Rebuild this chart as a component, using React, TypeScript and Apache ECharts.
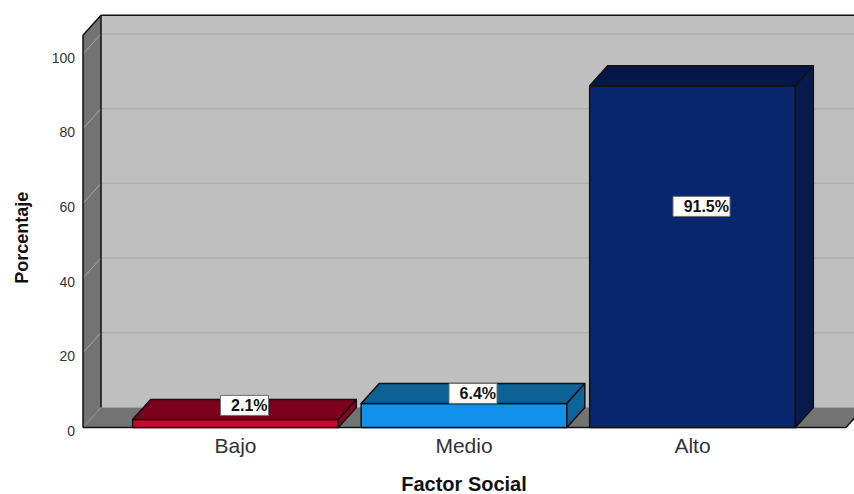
import React, { useEffect, useRef } from "react";
import * as echarts from "echarts";

const categories = ["Bajo", "Medio", "Alto"];
const percentages = [2.1, 6.4, 91.5];
const valueLabels = ["2.1%", "6.4%", "91.5%"];
const yTicks = [0, 20, 40, 60, 80, 100];
const frontColors = ["#D2002B", "#1192EA", "#08266E"];
const topColors = ["#7C001C", "#0C6197", "#05174A"];
const sideColors = ["#8A0020", "#0C6499", "#051A4E"];

const DX = 18;
const DY = -20;
const OUT = 38.25;
const EDGE = "#111111";
const labelLift = [-22, -34, -221];

export default function App() {
  const ref = useRef<HTMLDivElement>(null);
  useEffect(() => {
    document.body.style.margin = "0";
    const chart = echarts.init(ref.current!, null, { renderer: "svg" });
    const font = "'Liberation Sans', Arial, sans-serif";
    chart.setOption({
      animation: false,
      backgroundColor: "#FFFFFF",
      grid: { left: 121.25, top: 54, width: 685.5, height: 373.4, outerBoundsMode: "none" },
      xAxis: {
        type: "category",
        data: categories,
        axisLine: { show: false },
        axisTick: { show: false },
        axisLabel: { color: "#333333", fontSize: 21, fontFamily: font, margin: 8 },
        name: "Factor Social",
        nameLocation: "middle",
        nameGap: 46.5,
        nameTextStyle: { color: "#111111", fontSize: 20, lineHeight: 20, fontWeight: "bold", fontFamily: font },
      },
      yAxis: {
        type: "value",
        min: 0,
        max: 100,
        interval: 20,
        offset: OUT,
        axisLine: { show: false },
        axisTick: { show: false },
        splitLine: { show: false },
        axisLabel: { color: "#333333", fontSize: 14, fontFamily: font, margin: 8, verticalAlign: "top", lineHeight: 7 },
        name: "Porcentaje",
        nameLocation: "middle",
        nameGap: 52,
        nameRotate: 90,
        nameTextStyle: { color: "#111111", fontSize: 18, fontWeight: "bold", fontFamily: font, padding: [0, 0, 0, 6] },
      },
      series: [
        {
          type: "custom",
          name: "walls",
          silent: true,
          z: 1,
          data: [[0, 0]],
          encode: { x: 0, y: 1 },
          renderItem: (params: any, api: any) => {
            const cs = params.coordSys;
            const xl = cs.x - OUT;
            const xr = cs.x + cs.width + OUT + 1;
            const y0 = api.coord([0, 0])[1];
            const yt = api.coord([0, 105])[1];
            const poly = (pts: number[][], fill: string, stroke = "none", lineWidth = 1) => ({
              type: "polygon",
              shape: { points: pts },
              style: { fill, stroke, lineWidth },
            });
            const line = (x1: number, y1: number, x2: number, y2: number, stroke: string, lineWidth = 1.5) => ({
              type: "line",
              shape: { x1, y1, x2, y2 },
              style: { stroke, lineWidth },
            });
            const children: any[] = [
              poly([[xl + DX, yt + DY], [xr + DX, yt + DY], [xr + DX, y0 + DY], [xl + DX, y0 + DY]], "#BFBFBF"),
              poly([[xl, yt], [xl + DX, yt + DY], [xl + DX, y0 + DY], [xl, y0]], "#737373"),
              poly([[xl, y0], [xl + DX, y0 + DY], [xr + DX, y0 + DY], [xr, y0]], "#737373"),
            ];
            yTicks.filter((t) => t > 0).forEach((t) => {
              const y = api.coord([0, t])[1];
              children.push(line(xl, y, xl + DX, y + DY, "#A6A6A6", 1));
              children.push(line(xl + DX, y + DY, xr + DX, y + DY, "#B0B0B0", 1.5));
            });
            children.push(
              line(xl, y0, xl + DX, y0 + DY, "#8C8C8C", 1),
              line(xl + DX, y0 + DY, xr + DX, y0 + DY, "#A0A0A0", 1),
              line(xl + DX, yt + DY, xr + DX, yt + DY, EDGE),
              line(xl + DX, yt + DY, xl + DX, y0 + DY, EDGE),
              line(xl, yt, xl + DX, yt + DY, EDGE),
              line(xl, yt, xl, y0, EDGE),
              line(xl, y0, xr, y0, EDGE),
              line(xr, y0, xr + DX, y0 + DY, EDGE)
            );
            return { type: "group", children };
          },
        },
        {
          type: "custom",
          name: "Porcentaje",
          z: 2,
          data: percentages.map((v, i) => [i, v]),
          encode: { x: 0, y: 1 },
          renderItem: (params: any, api: any) => {
            const i = api.value(0);
            const [cx, yTop] = api.coord([i, api.value(1)]);
            const [, yBase] = api.coord([i, 0]);
            const w = api.size([1, 0])[0] * 0.9;
            const l = cx - w / 2;
            const r = cx + w / 2;
            const face = (pts: number[][], fill: string) => ({
              type: "polygon",
              shape: { points: pts },
              style: { fill, stroke: EDGE, lineWidth: 1.5, lineJoin: "round" },
            });
            return {
              type: "group",
              children: [
                face([[l, yBase], [r, yBase], [r, yTop], [l, yTop]], frontColors[i]),
                face([[l, yTop], [l + DX, yTop + DY], [r + DX, yTop + DY], [r, yTop]], topColors[i]),
                face([[r, yBase], [r + DX, yBase + DY], [r + DX, yTop + DY], [r, yTop]], sideColors[i]),
              ],
            };
          },
        },
        {
          type: "custom",
          name: "labels",
          silent: true,
          z: 3,
          data: percentages.map((v, i) => [i, v]),
          encode: { x: 0, y: 1 },
          renderItem: (params: any, api: any) => {
            const i = api.value(0);
            const [cx] = api.coord([i, 0]);
            const [, yBase] = api.coord([i, 0]);
            const lx = cx + DX / 2;
            const ly = yBase + labelLift[i];
            const hw = i === 2 ? 28.5 : 24;
            return {
              type: "group",
              children: [
                {
                  type: "rect",
                  shape: { x: lx - hw, y: ly - 10, width: hw * 2, height: 20 },
                  style: { fill: "#FFFFFF", stroke: "#6E6E6E", lineWidth: 1 },
                },
                {
                  type: "text",
                  x: lx + hw - 1,
                  y: ly,
                  style: {
                    text: valueLabels[i],
                    align: "right",
                    verticalAlign: "middle",
                    fill: "#111111",
                    font: `bold 16px ${font}`,
                  },
                },
              ],
            };
          },
        },
      ],
    });
    return () => chart.dispose();
  }, []);
  return <div ref={ref} style={{ width: 854, height: 494 }} />;
}
